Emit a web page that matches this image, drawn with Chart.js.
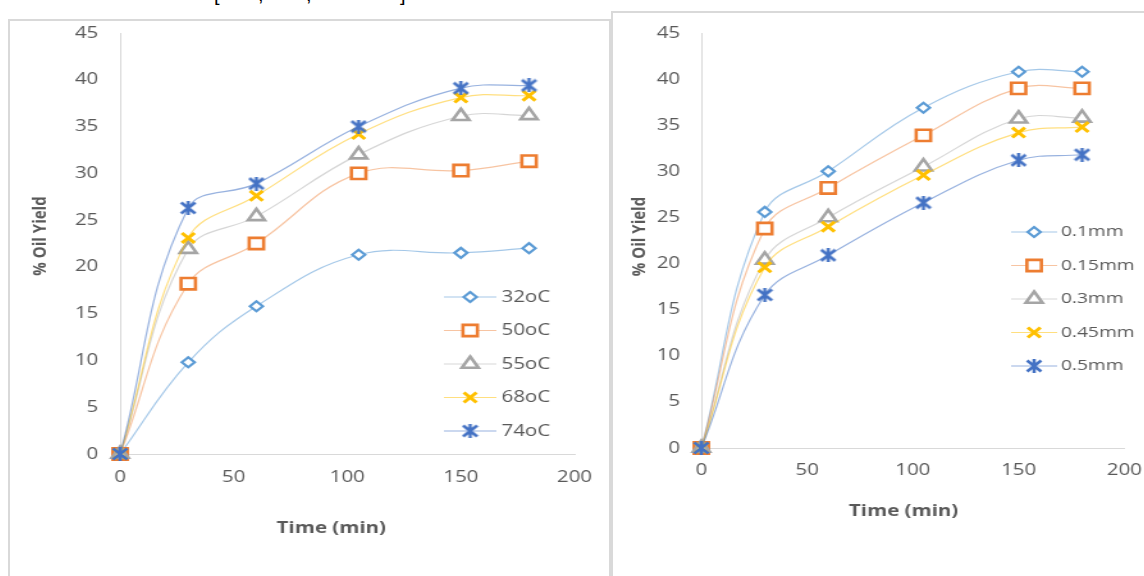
<!DOCTYPE html>
<html><head><meta charset="utf-8">
<script src="https://cdn.jsdelivr.net/npm/chart.js@4.4.1/dist/chart.umd.min.js"></script>
<style>
html,body{margin:0;padding:0;background:#fff;width:1144px;height:576px;overflow:hidden;position:relative;}
.box{position:absolute;border:2px solid #d9d9d9;box-sizing:border-box;}
.wrap{position:absolute;transform-origin:0 0;transform:scaleX(1.28);}
canvas{display:block;}
.cut{position:absolute;top:-16px;font:20px/20px "Liberation Sans";color:#000;}
</style></head><body>
<span class="cut" style="left:214px">[</span>
<span class="cut" style="left:258px">,</span>
<span class="cut" style="left:306px">,</span>
<span class="cut" style="left:400px">]</span>
<div class="box" style="left:8px;top:19px;width:603px;height:600px"></div>
<div class="box" style="left:611px;top:11px;width:560px;height:600px"></div>
<div class="wrap" style="left:10px;top:21px"><canvas id="c1" width="467" height="555"></canvas></div>
<div class="wrap" style="left:613px;top:13px"><canvas id="c2" width="415" height="563"></canvas></div>
<script>
// ---- data ----
const times = [0, 30, 60, 105, 150, 180];
const xTickValues = [0, 50, 100, 150, 200];
const yTickValues = [0, 5, 10, 15, 20, 25, 30, 35, 40, 45];

const tempLabels = ['32oC', '50oC', '55oC', '68oC', '74oC'];
const temp32 = [0, 9.8, 15.8, 21.3, 21.5, 22.0];
const temp50 = [0, 18.2, 22.5, 30.0, 30.3, 31.3];
const temp55 = [0, 21.9, 25.4, 32.0, 36.1, 36.2];
const temp68 = [0, 23.1, 27.6, 34.2, 38.1, 38.3];
const temp74 = [0, 26.3, 28.9, 35.0, 39.1, 39.4];

const sizeLabels = ['0.1mm', '0.15mm', '0.3mm', '0.45mm', '0.5mm'];
const size01 = [0, 25.6, 30.0, 36.9, 40.8, 40.8];
const size015 = [0, 23.8, 28.2, 33.9, 39.0, 39.0];
const size03 = [0, 20.4, 25.0, 30.5, 35.7, 35.8];
const size045 = [0, 19.6, 24.0, 29.6, 34.2, 34.8];
const size05 = [0, 16.6, 20.9, 26.6, 31.2, 31.8];

const xTitle = 'Time (min)';
const yTitle = '% Oil Yield';

// ---- styles ----
const markerColors = ['#5B9BD5', '#ED7D31', '#A5A5A5', '#FFC000', '#4472C4'];
const lineColors = ['rgba(91,155,213,0.55)', 'rgba(237,125,49,0.45)', 'rgba(165,165,165,0.45)', 'rgba(255,192,0,0.5)', 'rgba(68,114,196,0.55)'];
function starImg(color) {
  const c = document.createElement('canvas');
  c.width = 14; c.height = 14;
  const g = c.getContext('2d');
  g.strokeStyle = color; g.lineWidth = 2.6;
  g.beginPath();
  g.moveTo(1.5, 1.5); g.lineTo(12.5, 12.5);
  g.moveTo(12.5, 1.5); g.lineTo(1.5, 12.5);
  g.moveTo(7, 0); g.lineTo(7, 14);
  g.stroke();
  return c;
}
const pointStyles = ['rectRot', 'rect', 'triangle', 'crossRot', starImg('#4472C4')];
const pointRadii = [5, 8, 7.5, 7, 7];
const pointBorders = [2.2, 2.6, 2.6, 3, 2.6];
const font = '"Open Sans", "Liberation Sans", sans-serif';

function makeDatasets(labels, series) {
  return labels.map((lab, i) => ({
    label: lab,
    data: times.map((t, j) => ({ x: t, y: series[i][j] })),
    showLine: true,
    fill: false,
    clip: false,
    tension: 0.4,
    borderColor: lineColors[i],
    borderWidth: 1.2,
    pointStyle: pointStyles[i],
    pointRadius: pointRadii[i],
    pointHoverRadius: pointRadii[i],
    pointBorderWidth: pointBorders[i],
    pointBorderColor: markerColors[i],
    pointBackgroundColor: '#ffffff',
    order: labels.length - 1 - i
  }));
}

const overlay = {
  id: 'overlay',
  afterDraw(chart, args, o) {
    const ctx = chart.ctx;
    ctx.save();
    chart.data.datasets.forEach((ds, i) => {
      const y = o.y0 + i * o.dy;
      ctx.strokeStyle = ds.borderColor; ctx.lineWidth = ds.borderWidth;
      ctx.beginPath(); ctx.moveTo(o.x1, y); ctx.lineTo(o.x2, y); ctx.stroke();
      ctx.strokeStyle = ds.pointBorderColor; ctx.fillStyle = ds.pointBackgroundColor;
      ctx.lineWidth = ds.pointBorderWidth;
      Chart.helpers.drawPoint(ctx, { pointStyle: ds.pointStyle, radius: ds.pointRadius, borderWidth: ds.pointBorderWidth, rotation: 0 }, o.xm, y);
      ctx.fillStyle = '#595959';
      ctx.font = o.legendSize + 'px ' + font;
      ctx.textAlign = 'left'; ctx.textBaseline = 'middle';
      ctx.fillText(ds.label, o.xt, y);
    });
    ctx.fillStyle = '#595959';
    ctx.font = 'bold 16px ' + font;
    ctx.textAlign = 'center'; ctx.textBaseline = 'middle';
    ctx.fillText(xTitle, o.xtx, o.xty);
    ctx.translate(o.ytx, o.yty);
    ctx.rotate(-Math.PI / 2);
    ctx.font = 'bold 15px ' + font;
    ctx.fillText(yTitle, 0, 0);
    ctx.restore();
  }
};

function makeChart(id, labels, series, L) {
  return new Chart(document.getElementById(id), {
    type: 'scatter',
    data: { datasets: makeDatasets(labels, series) },
    options: {
      responsive: false, animation: false, devicePixelRatio: 1,
      layout: { autoPadding: false, padding: { left: 0, right: L.padRight, top: L.padTop, bottom: 0 } },
      plugins: { legend: { display: false }, tooltip: { enabled: false }, overlay: L.overlay },
      scales: {
        x: {
          type: 'linear', min: 0, max: 200,
          afterBuildTicks: s => { s.ticks = xTickValues.map(v => ({ value: v })); },
          afterFit: s => { s.height = L.xHeight; s.paddingLeft = 0; s.paddingRight = 0; s.paddingTop = 0; s.paddingBottom = 0; },
          ticks: { padding: L.xPad, color: '#595959', font: { family: font, size: 16 } },
          grid: { color: 'rgba(0,0,0,0)', drawTicks: false },
          border: { display: true, color: '#d9d9d9', width: 1 }
        },
        y: {
          type: 'linear', min: 0, max: 45,
          afterBuildTicks: s => { s.ticks = yTickValues.map(v => ({ value: v })); },
          afterFit: s => { s.width = L.yWidth; s.paddingLeft = 0; s.paddingRight = 0; s.paddingTop = 0; s.paddingBottom = 0; },
          ticks: { padding: L.yPad, color: '#595959', font: { family: font, size: 16 } },
          grid: { color: 'rgba(0,0,0,0)', drawTicks: false },
          border: { display: true, color: '#d9d9d9', width: 1 }
        }
      }
    },
    plugins: [overlay]
  });
}

makeChart('c1', tempLabels, [temp32, temp50, temp55, temp68, temp74], {
  padRight: 26, padTop: 12, xHeight: 122, yWidth: 86, xPad: 14, yPad: 17,
  overlay: { x1: 339, x2: 380, xm: 359.5, xt: 384, y0: 276, dy: 33.5, xtx: 251, xty: 507, ytx: 23.5, yty: 215, legendSize: 16 }
});
makeChart('c2', sizeLabels, [size01, size015, size03, size045, size05], {
  padRight: 15.5, padTop: 20, xHeight: 128, yWidth: 69, xPad: 13, yPad: 16.5,
  overlay: { x1: 311, x2: 347, xm: 329, xt: 350, y0: 219, dy: 33.5, xtx: 227, xty: 498.5, ytx: 21, yty: 223.5, legendSize: 15 }
});
</script>
</body></html>
